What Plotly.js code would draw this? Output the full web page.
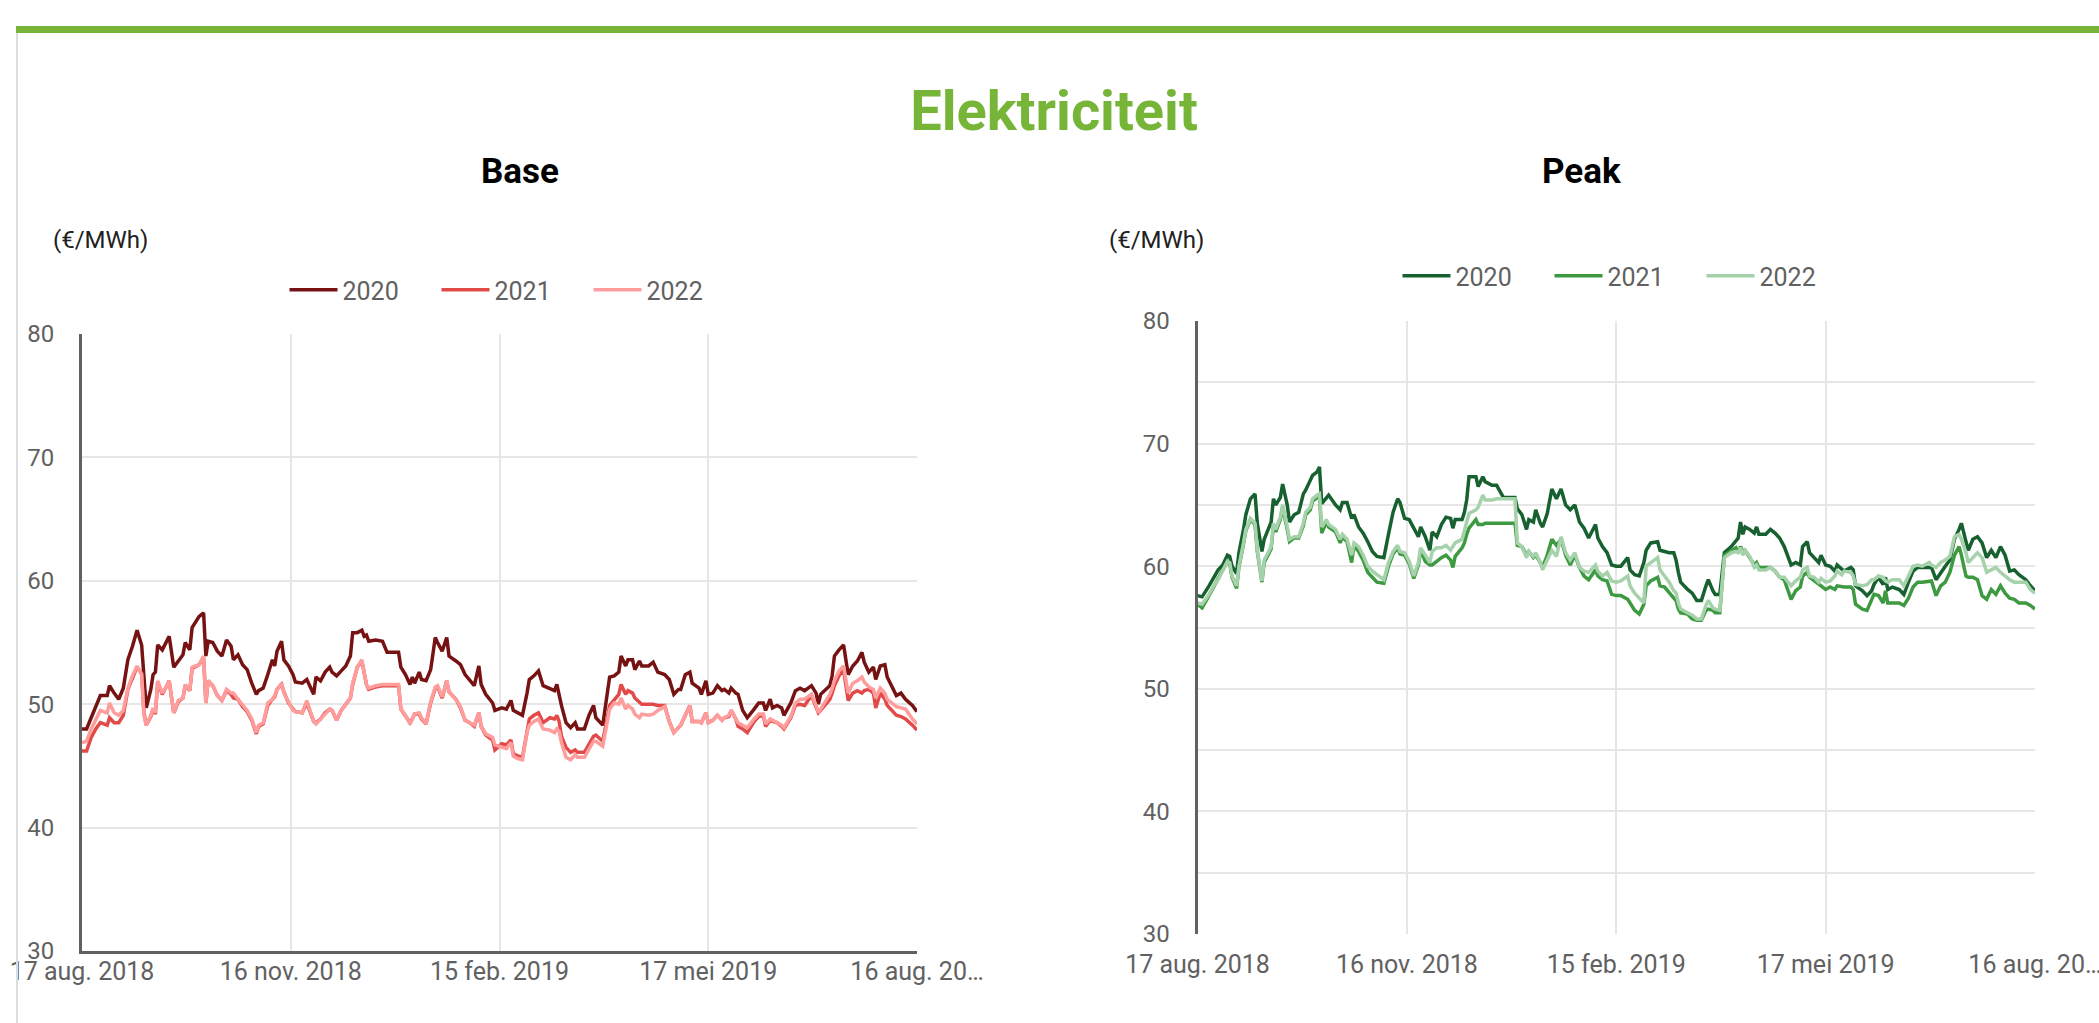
<!DOCTYPE html>
<html>
<head>
<meta charset="utf-8">
<script src="https://cdn.plot.ly/plotly-3.0.1.min.js"></script>
<style>
html,body{margin:0;padding:0;background:#fff;}
#chart{width:2099px;height:1023px;}
</style>
</head>
<body>
<div id="chart"></div>
<script>
// ---- DATA ----
// x values: days since 17 aug. 2018
const tickDays = [0, 91, 182, 273, 364];
const tickLabels = ['17 aug. 2018', '16 nov. 2018', '15 feb. 2019', '17 mei 2019', '16 aug. 20…'];
const seriesNames = ['2020', '2021', '2022'];

const baseDay = [0,2,4,6,8,11,12,14,16,18,20,22,24,26,27,28,30,31,32,33,35,37,38,40,42,44,45,47,48,51,53,54,55,57,59,61,63,65,66,68,70,72,74,76,77,79,81,83,84,85,87,88,90,92,93,96,98,100,101,102,104,106,108,109,111,113,115,117,118,120,122,123,124,125,128,131,133,136,138,139,141,143,144,145,147,148,150,152,154,155,157,159,160,163,165,167,169,171,173,174,176,179,180,
183,185,187,188,190,192,194,195,197,199,201,204,206,207,208,209,211,213,215,216,219,221,223,224,227,230,232,234,235,237,238,240,241,243,244,247,249,251,254,256,258,260,261,263,265,266,269,270,272,273,275,277,279,280,282,283,285,286,288,290,293,295,297,298,300,301,303,305,306,309,311,313,315,318,320,321,322,325,326,327,328,330,332,334,336,338,340,341,343,345,346,348,350,351,354,355,357,359,362,364];

const base2020 = [48.0,48.0,48.9,49.9,50.7,50.7,51.5,50.9,50.4,51.3,
53.6,54.7,56.0,54.8,52.3,49.7,51.2,52.4,52.6,54.8,
54.4,55.2,55.5,53.0,53.5,54.0,55.0,54.4,56.2,57.1,
57.4,53.9,55.1,55.0,54.3,53.9,55.2,54.7,53.6,54.0,
53.2,52.8,51.7,50.8,51.1,51.3,52.4,53.6,53.1,54.3,
55.1,53.6,53.1,52.4,51.8,51.7,52.0,51.1,50.8,52.2,
51.9,52.6,53.0,52.6,52.3,52.7,53.1,53.9,55.8,55.8,
56.0,55.5,55.6,55.1,55.2,55.1,54.2,54.2,54.2,53.0,
52.4,51.6,52.2,51.7,52.6,52.0,51.9,52.8,55.4,55.0,
54.3,55.4,53.9,53.5,53.2,52.4,52.0,51.5,53.1,51.6,
50.8,50.1,49.5,
49.7,49.6,50.3,49.5,49.3,49.1,50.9,52.0,52.3,52.7,
51.5,51.3,51.1,51.6,50.7,49.9,48.5,48.1,48.5,48.0,
48.0,49.1,49.9,48.9,48.3,52.2,52.3,52.6,53.9,53.1,
53.6,53.6,52.8,53.5,53.1,53.1,53.4,52.6,52.4,52.0,
50.8,51.2,51.2,52.4,52.6,51.7,51.3,50.8,51.9,50.8,
50.9,51.5,51.1,51.2,50.9,51.3,50.9,50.8,49.5,48.9,
49.6,50.1,50.1,49.5,50.4,49.7,49.9,49.7,49.1,50.1,
51.1,51.3,51.1,51.5,50.9,50.0,50.8,51.3,51.5,52.3,
53.9,54.4,54.8,52.4,53.1,53.5,54.2,53.4,52.6,53.0,
52.0,53.1,53.2,52.2,51.1,50.7,50.9,50.4,49.9,49.4];

const base2021 = [46.2,46.2,47.3,48.0,48.5,48.3,48.9,48.5,48.5,49.1,
51.2,52.2,53.0,52.5,49.3,48.3,49.0,49.6,49.2,51.8,
50.8,51.5,51.9,49.3,50.2,50.5,51.5,51.1,52.9,53.2,
53.8,50.1,51.9,51.5,50.7,50.3,51.1,50.8,50.5,50.4,
49.8,49.4,48.7,47.6,48.2,48.4,49.9,50.4,50.6,51.2,
51.6,51.0,50.1,49.6,49.4,49.3,50.1,49.1,48.6,48.5,
48.8,49.3,49.6,49.5,48.7,49.5,50.0,50.5,51.6,53.0,
53.5,52.6,51.6,51.2,51.4,51.5,51.5,51.5,51.5,49.6,
49.1,48.5,48.8,49.2,49.2,48.8,48.4,50.1,51.3,51.4,
50.5,51.9,51.0,50.4,49.7,48.7,48.5,48.2,49.3,48.2,
47.5,47.1,46.3,
46.8,46.7,47.1,46.0,45.8,45.7,48.0,48.8,49.1,49.3,
48.5,48.9,48.8,49.1,48.6,47.4,46.5,46.1,46.3,46.1,
46.1,46.7,47.4,47.5,47.0,49.9,50.4,50.8,51.6,50.8,
51.1,50.9,50.5,50.1,50.0,50.0,50.0,49.9,49.9,48.6,
47.7,48.1,48.3,49.1,49.9,48.6,48.6,48.5,49.3,48.5,
48.7,49.1,48.7,48.9,49.0,49.5,48.8,48.2,48.0,47.7,
48.6,49.0,49.1,48.2,48.7,48.6,48.5,48.2,48.0,48.9,
49.9,50.0,49.9,50.7,49.8,49.3,49.5,50.1,50.4,50.9,
51.5,52.3,52.8,50.3,50.9,51.1,50.9,51.1,51.2,50.9,
49.7,50.9,50.4,49.9,49.3,49.1,49.0,48.8,48.3,47.9];

const base2022 = [46.9,47.0,48.0,48.8,49.5,49.3,50.1,49.3,49.1,49.5,
51.3,52.3,53.1,52.4,49.1,48.3,49.1,49.7,49.3,51.9,
50.9,51.5,51.9,49.3,50.3,50.5,51.6,51.1,53.0,53.2,
53.9,50.1,51.9,51.5,50.7,50.3,51.2,50.9,50.9,50.4,
49.9,49.5,48.8,47.7,48.3,48.5,50.1,50.4,50.7,51.2,
51.7,50.9,50.2,49.5,49.4,49.3,50.3,49.2,48.6,48.4,
48.8,49.3,49.6,49.5,48.7,49.5,50.0,50.5,51.7,53.0,
53.6,52.6,51.6,51.3,51.5,51.6,51.6,51.6,51.6,49.6,
49.1,48.4,48.8,49.2,49.3,48.9,48.4,50.2,51.4,51.5,
50.6,51.9,51.0,50.4,49.8,48.7,48.5,48.3,49.3,48.2,
47.6,47.3,46.7,
46.5,46.4,46.9,45.8,45.6,45.5,47.7,48.3,48.6,48.8,
48.0,47.9,47.7,48.0,47.8,46.9,45.7,45.5,45.9,45.7,
45.7,46.3,47.0,47.0,46.6,49.6,50.1,50.0,50.5,49.6,
49.9,49.6,49.2,48.9,49.2,49.1,49.2,49.5,49.8,48.6,
47.7,48.1,48.3,49.1,49.9,48.6,48.6,48.5,49.3,48.5,
48.7,49.1,48.7,48.9,49.1,49.5,48.8,48.5,48.3,48.1,
48.8,49.2,49.2,48.4,48.8,48.7,48.5,48.3,48.1,49.0,
50.1,50.4,50.4,50.8,49.9,49.3,49.6,50.5,50.8,51.3,
51.9,52.7,53.1,50.9,51.7,51.9,52.2,51.8,51.4,51.2,
50.5,51.3,50.9,50.4,49.9,49.8,49.7,49.6,48.8,48.4];

const peakDay = [0,2,5,7,9,11,13,14,15,17,18,20,21,23,25,26,28,29,31,32,33,34,36,37,39,40,42,44,46,47,49,50,52,53,54,56,57,60,62,63,65,67,68,70,72,74,76,78,81,83,85,87,88,90,92,94,96,97,99,101,102,104,106,108,110,111,112,115,116,117,118,121,122,124,125,128,130,133,136,138,139,141,143,144,146,147,149,150,152,154,156,158,160,162,164,166,168,170,173,174,176,178,
180,182,184,187,188,190,192,194,195,197,200,201,203,205,207,208,209,210,213,215,217,219,221,222,224,225,227,229,232,234,235,236,237,238,240,242,243,244,247,249,251,253,255,258,260,262,263,265,266,268,270,271,273,275,277,278,280,281,284,285,286,289,291,293,294,296,298,299,300,302,305,307,309,311,313,315,318,319,321,323,325,327,329,331,332,334,335,337,339,341,343,345,347,349,351,353,355,357,360,362,364];

const peak2020 = [57.6,57.5,58.4,59.1,59.7,60.1,60.9,60.8,60.0,59.4,
61.1,63.0,64.2,65.5,65.9,63.5,61.2,62.2,63.1,63.6,
65.5,65.0,65.6,66.7,65.0,63.6,64.2,64.4,65.9,66.2,
67.0,67.4,67.7,68.1,65.1,65.5,65.8,65.0,64.6,65.2,
65.2,63.9,64.2,63.2,62.7,62.0,61.2,60.8,60.7,62.6,
64.4,65.5,65.2,63.9,63.8,63.1,62.4,63.2,62.4,61.3,
62.8,62.4,63.4,64.0,63.9,63.1,63.8,63.8,64.4,65.4,
67.3,67.3,66.5,67.3,66.9,66.6,66.6,65.6,65.6,65.6,
64.7,64.2,63.0,63.8,63.6,64.6,63.5,63.2,64.3,66.3,
65.5,66.3,65.0,64.6,65.0,63.6,63.1,62.3,63.4,62.3,
61.6,61.1,
60.1,60.0,60.0,60.7,59.7,59.3,59.2,60.3,61.3,61.9,
62.0,61.3,61.2,61.1,61.1,60.5,59.5,58.7,58.1,57.8,
57.2,57.2,58.4,58.9,58.0,57.7,57.7,61.1,61.6,62.0,
62.3,63.6,62.6,63.2,63.0,62.7,63.2,62.6,62.6,63.0,
62.7,62.3,61.6,60.1,60.3,60.1,61.6,62.0,61.1,60.7,
60.3,60.9,60.1,60.0,59.6,60.1,59.7,59.6,59.9,59.7,
58.4,58.0,57.6,58.0,58.5,59.1,58.5,59.1,58.1,58.3,
58.1,57.7,58.7,59.6,59.9,59.9,59.9,59.9,58.9,59.5,
60.0,60.5,62.2,63.0,63.5,62.0,61.3,62.2,62.4,61.9,
60.7,61.3,60.7,61.6,60.9,59.6,59.7,59.3,58.9,58.4,
58.0];

const peak2021 = [56.9,56.6,57.6,58.3,58.9,59.6,60.4,60.2,59.1,58.2,
59.9,61.8,62.9,63.8,63.4,61.2,58.7,60.3,61.1,61.4,
63.3,62.8,63.8,64.8,63.0,62.0,62.3,62.3,63.3,64.2,
64.6,65.3,65.6,65.7,62.7,63.6,63.2,62.8,61.9,62.4,
62.0,60.3,61.7,61.2,60.5,59.5,59.1,58.7,58.6,60.0,
61.0,61.5,61.0,60.9,60.2,59.0,60.1,61.3,60.4,60.1,
60.1,60.4,60.7,60.9,60.5,59.9,60.8,61.5,61.9,62.6,
63.1,63.8,63.4,63.4,63.5,63.5,63.5,63.5,63.5,63.5,
61.7,61.6,60.9,61.2,60.7,60.9,60.3,59.9,60.9,62.2,
61.7,62.2,60.9,60.1,60.9,59.9,59.2,58.9,59.7,59.2,
58.9,58.8,
57.7,57.6,57.6,57.3,57.0,56.4,56.1,56.9,58.4,58.8,
59.1,58.4,58.3,57.8,57.4,57.2,56.5,56.2,56.1,55.7,
55.6,55.6,56.4,56.5,56.4,56.2,56.2,60.9,61.3,61.5,
61.1,61.6,61.2,61.3,60.7,60.1,60.3,59.9,59.9,59.9,
59.6,59.1,58.9,57.3,58.0,58.3,59.2,59.5,59.1,58.8,
58.5,58.4,58.1,58.3,58.1,58.4,58.3,58.3,58.3,58.1,
56.9,56.5,56.4,57.4,57.7,57.6,57.0,58.0,57.0,57.0,
57.0,56.8,57.4,58.3,58.7,58.7,58.8,58.8,57.6,58.4,
58.7,59.5,60.9,61.6,60.9,59.2,59.1,59.1,58.9,57.6,
57.3,58.1,57.7,58.4,57.8,57.4,57.3,57.0,57.0,56.8,
56.5];

const peak2022 = [57.0,56.9,57.7,58.4,58.9,59.6,60.4,60.3,59.2,58.4,
60.0,61.9,63.0,63.9,63.5,61.3,58.8,60.5,61.3,61.6,
63.5,63.0,64.0,65.0,63.2,62.2,62.4,62.4,63.5,64.4,
64.8,65.5,65.8,65.9,63.2,63.8,63.4,63.0,62.2,62.6,
62.2,60.9,61.9,61.6,60.9,60.0,59.6,59.3,58.9,60.3,
61.2,61.7,61.2,61.1,60.4,59.2,60.3,61.5,60.9,60.3,
61.2,61.5,61.5,61.7,61.3,61.6,61.9,62.2,63.0,63.8,
64.3,64.6,64.8,65.8,65.4,65.4,65.5,65.5,65.5,65.5,
61.9,61.6,60.7,61.2,60.8,61.1,60.3,59.7,60.5,61.3,
60.8,62.4,61.1,60.5,61.1,59.9,59.6,59.5,60.1,59.6,
59.2,59.5,
58.8,58.7,58.8,59.2,58.4,57.8,57.4,57.0,60.0,60.3,
60.7,59.7,59.2,58.7,58.0,57.8,57.0,56.5,56.2,56.0,
55.7,55.7,56.8,57.2,56.6,56.5,56.4,60.7,61.1,61.2,
61.1,61.5,60.9,61.3,60.8,59.9,60.1,59.7,59.7,59.9,
59.6,59.1,59.1,58.4,58.8,59.1,59.7,59.9,59.2,59.1,
58.7,59.0,58.7,58.8,59.2,59.6,59.3,59.6,59.5,59.2,
58.5,58.4,58.5,58.9,58.9,59.2,59.1,58.8,58.7,58.9,
58.9,58.4,59.2,60.0,60.1,60.0,60.3,60.1,59.9,60.3,
60.5,60.8,62.4,62.6,62.2,61.1,60.3,60.7,61.1,60.7,
59.5,59.7,59.9,59.5,59.2,58.9,58.7,58.7,58.7,58.1,
57.8];

const baseColors = ['#761212', '#e24a4a', '#ff9d9d'];
const peakColors = ['#17602f', '#3e9a40', '#a6d2ab'];

// ---- CHART ----
const W = 2099, H = 1023;
const px = v => v / W;
const py = v => 1 - v / H;
const FONT = 'Roboto, "Noto Sans", Arial, sans-serif';
const GRID = '#e6e6e6';
const AXIS = '#616161';

const baseSeries = [base2020, base2021, base2022];
const peakSeries = [peak2020, peak2021, peak2022];

const traces = [];
baseSeries.forEach((ys, i) => traces.push({
  type: 'scatter', mode: 'lines', x: baseDay, y: ys, name: seriesNames[i],
  line: {color: baseColors[i], width: 3.5}, xaxis: 'x', yaxis: 'y',
  legend: 'legend', hoverinfo: 'skip'
}));
peakSeries.forEach((ys, i) => traces.push({
  type: 'scatter', mode: 'lines', x: peakDay, y: ys, name: seriesNames[i],
  line: {color: peakColors[i], width: 3.5}, xaxis: 'x2', yaxis: 'y2',
  legend: 'legend2', hoverinfo: 'skip'
}));

const xCommon = {
  range: [0, 364], tickmode: 'array', tickvals: tickDays, ticktext: tickLabels,
  showgrid: true, gridcolor: GRID, gridwidth: 2, zeroline: false, ticks: '',
  tickfont: {family: FONT, size: 25, color: AXIS}, fixedrange: true,
  ticklabeloverflow: 'allow'
};
const yCommon = {
  range: [30, 80], tick0: 30, dtick: 10, showgrid: true, gridcolor: GRID, gridwidth: 2,
  zeroline: false, ticks: '', showline: true, linecolor: AXIS, linewidth: 3,
  tickfont: {family: FONT, size: 24, color: AXIS}, ticklabelstandoff: 20, fixedrange: true
};

const legendCommon = {
  orientation: 'h', xanchor: 'center', yanchor: 'middle',
  font: {family: FONT, size: 25, color: AXIS}, bgcolor: 'rgba(0,0,0,0)',
  itemwidth: 48, entrywidth: 89, itemclick: false, itemdoubleclick: false
};

const layout = {
  width: W, height: H, autosize: false,
  margin: {l: 0, r: 0, t: 0, b: 0, pad: 0},
  paper_bgcolor: '#ffffff', plot_bgcolor: '#ffffff',
  font: {family: FONT},
  showlegend: true,
  title: {
    text: '<b>Elektriciteit</b>', font: {family: FONT, size: 56, color: '#77b539'},
    x: px(1054), xanchor: 'center', xref: 'container',
    y: py(110), yanchor: 'middle', yref: 'container'
  },
  xaxis: Object.assign({}, xCommon, {
    domain: [px(82), px(917)], anchor: 'y',
    showline: true, linecolor: AXIS, linewidth: 3, ticklabelstandoff: -4
  }),
  yaxis: Object.assign({}, yCommon, {domain: [py(951), py(334)], anchor: 'x'}),
  xaxis2: Object.assign({}, xCommon, {
    domain: [px(1197.5), px(2035)], anchor: 'y2',
    showline: false, ticklabelstandoff: 13
  }),
  yaxis2: Object.assign({}, yCommon, {
    domain: [py(934), py(321)], anchor: 'x2',
    minor: {dtick: 5, tick0: 30, showgrid: true, gridcolor: GRID, gridwidth: 2, ticks: ''}
  }),
  legend: Object.assign({}, legendCommon, {x: px(512.5), y: py(290)}),
  legend2: Object.assign({}, legendCommon, {x: px(1625.5), y: py(276)}),
  annotations: [
    {text: '<b>Base</b>', x: px(520), y: py(172), xref: 'paper', yref: 'paper',
     xanchor: 'center', yanchor: 'middle', showarrow: false,
     font: {family: FONT, size: 35, color: '#000000'}},
    {text: '<b>Peak</b>', x: px(1582), y: py(172), xref: 'paper', yref: 'paper',
     xanchor: 'center', yanchor: 'middle', showarrow: false,
     font: {family: FONT, size: 35, color: '#000000'}},
    {text: '(€/MWh)', x: px(51), y: py(240), xref: 'paper', yref: 'paper',
     xanchor: 'left', yanchor: 'middle', showarrow: false,
     font: {family: FONT, size: 24, color: '#212121'}},
    {text: '(€/MWh)', x: px(1107), y: py(240), xref: 'paper', yref: 'paper',
     xanchor: 'left', yanchor: 'middle', showarrow: false,
     font: {family: FONT, size: 24, color: '#212121'}}
  ],
  shapes: [
    {type: 'rect', xref: 'paper', yref: 'paper', x0: px(16), x1: 1, y0: py(33), y1: py(26),
     fillcolor: '#77b539', line: {width: 0}, layer: 'above'},
    {type: 'line', xref: 'paper', yref: 'paper', x0: px(17), x1: px(17), y0: 0, y1: py(33),
     line: {color: '#dddddd', width: 2}}
  ]
};

Plotly.newPlot('chart', traces, layout, {displayModeBar: false, staticPlot: true});
</script>
</body>
</html>
